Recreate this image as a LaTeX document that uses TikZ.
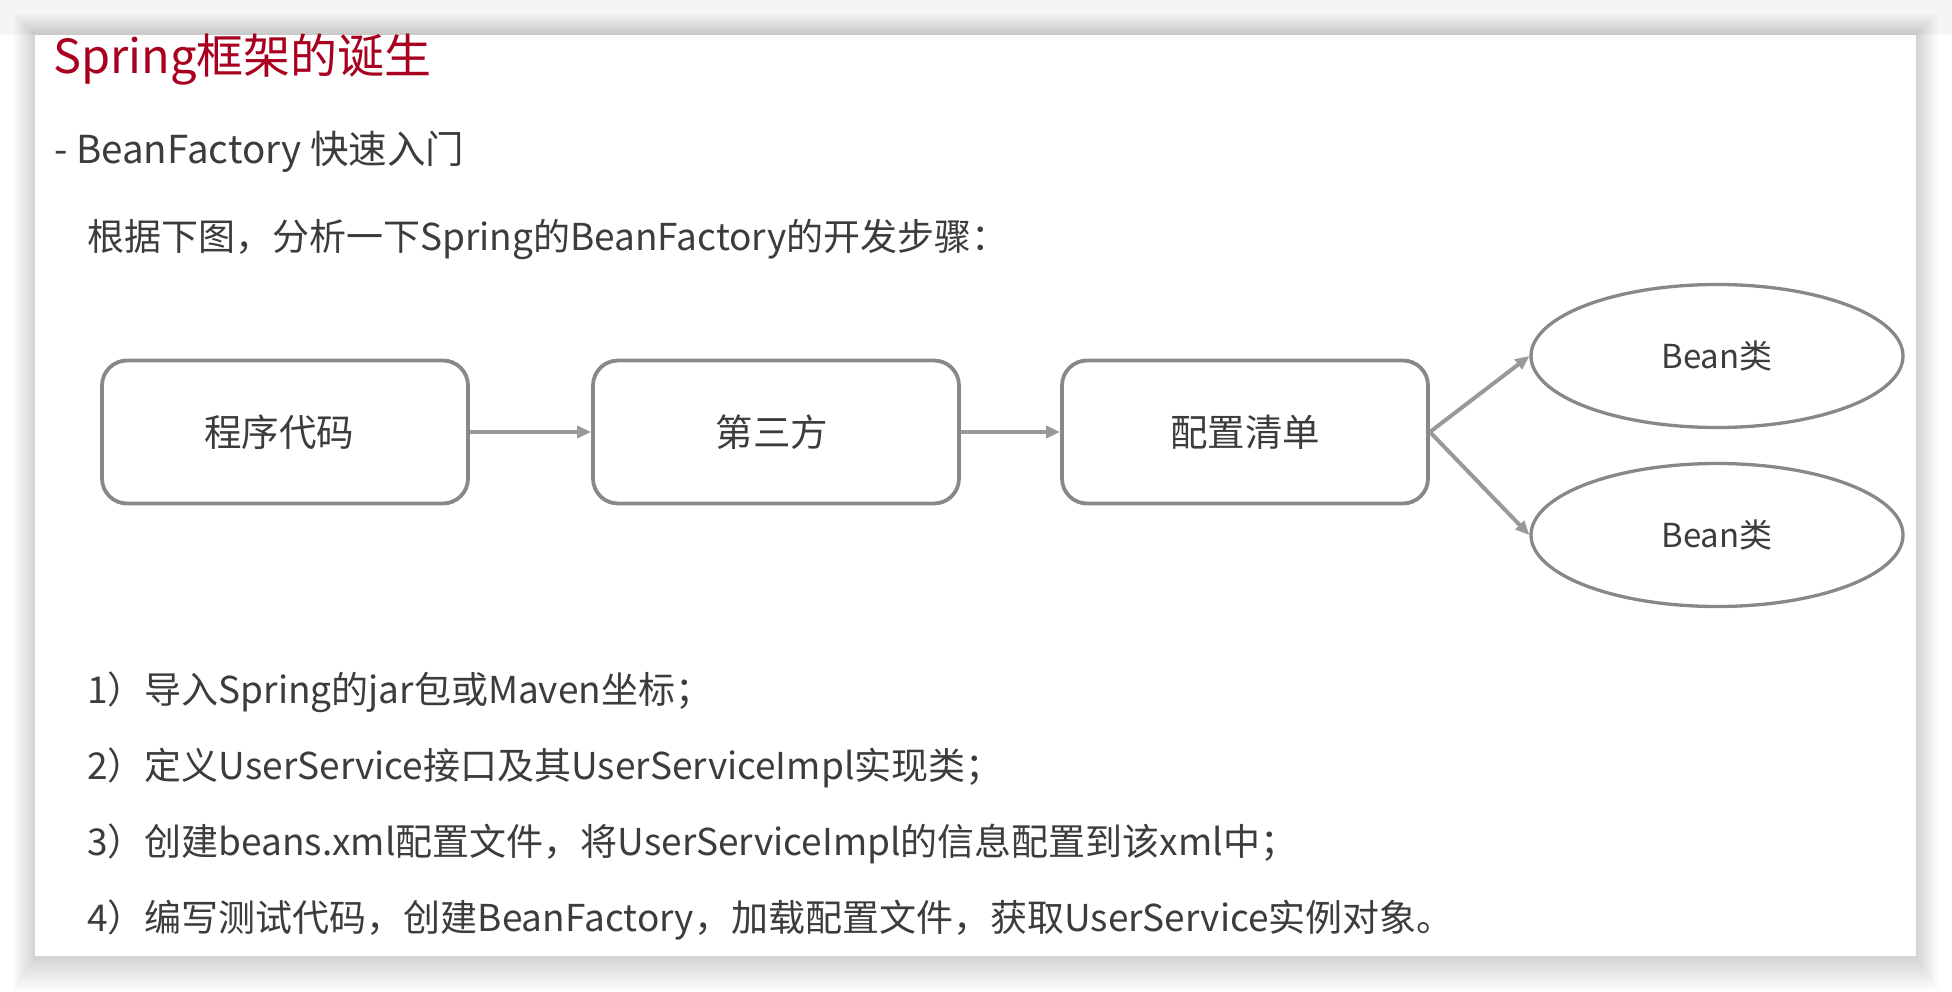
\documentclass[tikz,border=0pt]{standalone}
\usepackage{fontspec}
\setmainfont{Noto Sans CJK SC}
\usepackage{tikz}
\usetikzlibrary{arrows.meta, positioning, shapes.geometric}
\usepackage{xcolor}
\definecolor{titlered}{HTML}{A8001E}
\definecolor{textgray}{HTML}{3C3C3C}
\definecolor{linegray}{HTML}{888888}
\definecolor{arrowgray}{HTML}{999999}

\begin{document}
\begin{tikzpicture}[x=1pt, y=-1pt,
  box/.style={rectangle, rounded corners=25pt, draw=linegray, line width=3.8pt, fill=white, text=textgray, minimum width=366pt, minimum height=143pt, font=\fontsize{37.5}{45}\selectfont},
  bean/.style={ellipse, draw=linegray, line width=3.3pt, fill=white, text=textgray, minimum width=372pt, minimum height=143pt, font=\fontsize{33}{40}\selectfont},
  flow/.style={draw=arrowgray, line width=4pt, -{Triangle[length=14pt, width=12pt]}},
  steptext/.style={anchor=base west, text=textgray, inner sep=0pt, font=\fontsize{37}{44}\selectfont}]
  \useasboundingbox (0, 0) rectangle (1952, 992);
  \fill[white] (0, 0) rectangle (1952, 992);
  \fill[gray!8] (0, 0) rectangle (1952, 35);
  \foreach \d in {1,...,22}
    \fill[black, opacity=0.008] (35-\d, 35-\d) rectangle (1916+\d, 956+1.6*\d);
  \fill[white] (35, 35) rectangle (1916, 956);

  \node[steptext, text=titlered, font=\fontsize{47}{56}\selectfont] (title) at (53, 74) {Spring框架的诞生};
  \node[steptext, font=\fontsize{38.5}{46}\selectfont] (subtitle) at (54, 164) {- BeanFactory 快速入门};
  \node[steptext] (intro) at (87, 251) {根据下图，分析一下Spring的BeanFactory的开发步骤：};

  \node[box] (code) at (285, 432) {\hspace*{-12pt}程序代码};
  \node[box] (third) at (776, 432) {\hspace*{-8pt}第三方};
  \node[box] (config) at (1245, 432) {配置清单};
  \node[bean] (bean1) at (1717, 356) {Bean类};
  \node[bean] (bean2) at (1717, 535) {Bean类};

  \draw[flow] (code) -- (third);
  \draw[flow] (third) -- (config);
  \draw[flow] (config.east) -- (bean1.west);
  \draw[flow] (config.east) -- (bean2.west);

  \node[steptext] (step1) at (87, 703) {1）导入Spring的jar包或Maven坐标；};
  \node[steptext] (step2) at (87, 779) {2）定义UserService接口及其UserServiceImpl实现类；};
  \node[steptext] (step3) at (87, 855) {3）创建beans.xml配置文件，将UserServiceImpl的信息配置到该xml中；};
  \node[steptext] (step4) at (87, 931) {4）编写测试代码，创建BeanFactory，加载配置文件，获取UserService实例对象。};
\end{tikzpicture}
\end{document}
